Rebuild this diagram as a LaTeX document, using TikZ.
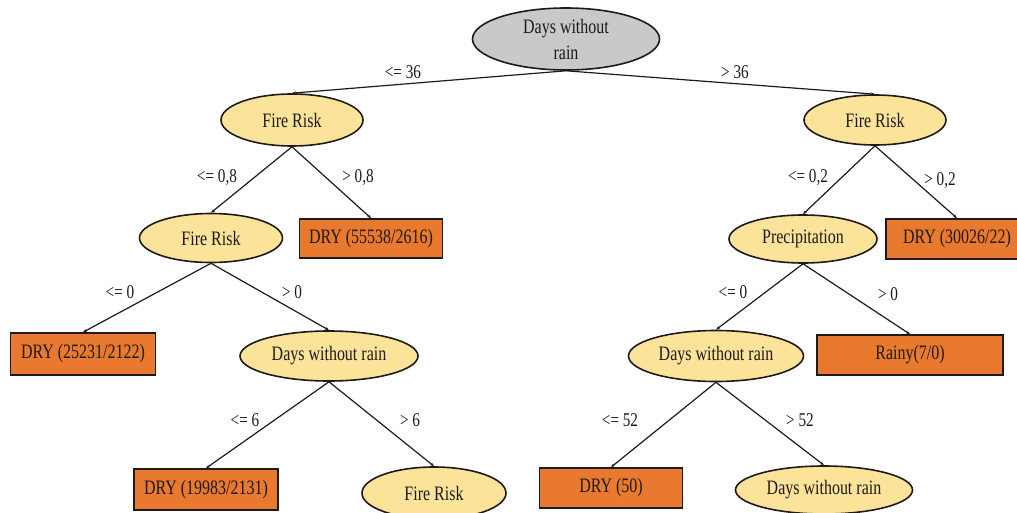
\documentclass[tikz,border=0pt]{standalone}
\usepackage{fontspec}
\setmainfont{Liberation Serif}[FakeStretch=0.78]
\usetikzlibrary{shapes.geometric,arrows.meta}
\definecolor{ellfill}{HTML}{FBE39A}
\definecolor{boxfill}{HTML}{E8792E}
\definecolor{rootfill}{HTML}{C9C9C9}
\definecolor{ink}{HTML}{1E1A18}
\tikzset{
  ell/.style={ellipse, draw=ink, line width=1.6pt, fill=ellfill, inner sep=0pt, text=ink, font=\fontsize{20.5}{24}\selectfont},
  rootell/.style={ell, fill=rootfill},
  leaf/.style={rectangle, draw=ink, line width=1.6pt, fill=boxfill, inner sep=0pt, text=ink, font=\fontsize{20.5}{24}\selectfont},
  edge/.style={draw=ink, line width=1.2pt, -{Stealth[length=4pt,width=3pt]}},
  lab/.style={text=ink, font=\fontsize{19.5}{21}\selectfont, inner sep=0pt}
}
\begin{document}
\begin{tikzpicture}[x=1pt,y=-1pt]
\useasboundingbox (0,0) rectangle (1017,513);
\clip (0,0) rectangle (1017,513);
% nodes
\node[rootell, minimum width=187pt, minimum height=62pt, align=center, font=\fontsize{20.5}{26}\selectfont] (root) at (566,39) {Days without\\rain};
\node[ell, minimum width=142pt, minimum height=52pt] (fr1) at (292,120) {Fire Risk};
\node[ell, minimum width=142pt, minimum height=50pt] (fr2) at (875,120) {Fire Risk};
\node[ell, minimum width=143pt, minimum height=49pt] (fr3) at (211,238) {Fire Risk};
\node[leaf, minimum width=143pt, minimum height=39pt] (d1) at (371,238.5) {DRY (55538/2616)};
\node[leaf, minimum width=145pt, minimum height=42pt] (d2) at (83,354) {DRY (25231/2122)};
\node[ell, minimum width=178pt, minimum height=50pt] (dw1) at (329,356) {Days without rain};
\node[leaf, minimum width=144pt, minimum height=41pt] (d3) at (206,489.5) {DRY (19983/2131)};
\node[ell, minimum width=144pt, minimum height=52pt] (fr4) at (434,493) {Fire Risk};
\node[ell, minimum width=148pt, minimum height=48pt] (pr) at (803,239) {Precipitation};
\node[leaf, minimum width=142pt, minimum height=40pt] (d4) at (957,239) {DRY (30026/22)};
\node[ell, minimum width=175pt, minimum height=51pt] (dw2) at (716,356) {Days without rain};
\node[leaf, minimum width=186pt, minimum height=40pt] (rainy) at (910,355) {Rainy(7/0)};
\node[leaf, minimum width=143pt, minimum height=40pt] (d5) at (611,488) {DRY (50)};
\node[ell, minimum width=177pt, minimum height=48pt] (dw3) at (824,490) {Days without rain};
% edges
\draw[edge] (root.south) -- (fr1.north);
\draw[edge] (root.south) -- (fr2.north);
\draw[edge] (fr1.south) -- (fr3.north);
\draw[edge] (fr1.south) -- (d1.north);
\draw[edge] (fr3.south) -- (d2.north);
\draw[edge] (fr3.south) -- (dw1.north);
\draw[edge] (dw1.south) -- (d3.north);
\draw[edge] (dw1.south) -- (fr4.north);
\draw[edge] (fr2.south) -- (pr.north);
\draw[edge] (fr2.south) -- (d4.north);
\draw[edge] (pr.south) -- (dw2.north);
\draw[edge] (pr.south) -- (rainy.north);
\draw[edge] (dw2.south) -- (d5.north);
\draw[edge] (dw2.south) -- (dw3.north);
% labels
\node[lab] (l1) at (403,72) {<= 36};
\node[lab] (l2) at (735,72) {> 36};
\node[lab] (l3) at (217,178) {<= 0,8};
\node[lab] (l4) at (358,178) {> 0,8};
\node[lab] (l5) at (120,292) {<= 0};
\node[lab] (l6) at (292,292) {> 0};
\node[lab] (l7) at (245,420) {<= 6};
\node[lab] (l8) at (410,420) {> 6};
\node[lab] (l9) at (808,178) {<= 0,2};
\node[lab] (l10) at (940,181) {> 0,2};
\node[lab] (l11) at (733,292) {<= 0};
\node[lab] (l12) at (888,294) {> 0};
\node[lab] (l13) at (620,420) {<= 52};
\node[lab] (l14) at (800,420) {> 52};
\end{tikzpicture}
\end{document}
